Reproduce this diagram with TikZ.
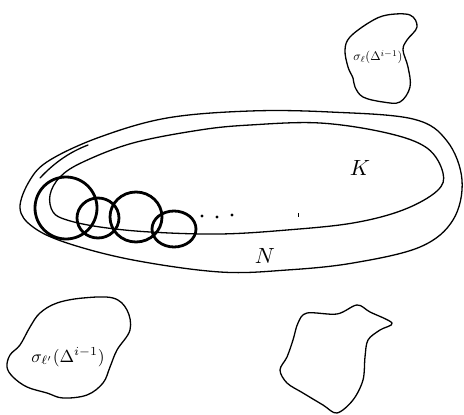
\documentclass[tikz,border=0pt]{standalone}
\begin{document}
\begin{tikzpicture}[x=1pt,y=-1pt,
  thinline/.style={line width=1.3pt,line join=round,line cap=round},
  ring/.style={line width=2.8pt},
  lab/.style={inner sep=0pt}]
\useasboundingbox (0,0) rectangle (464,415);
% outer region N
\draw[thinline] plot[smooth cycle,tension=0.6] coordinates {
 (20,208) (30,180) (50,160) (100,137) (167,118) (250,111) (330,112) (413,119)
 (447,141) (462,180) (453,220) (420,247) (353,263) (287,270) (220,272)
 (133,260) (67,243) (33,227)};
% extra stroke
\draw[thinline] (40,178) .. controls (55,162) and (70,152) .. (88,145);
% inner region K
\draw[thinline] plot[smooth cycle,tension=0.6] coordinates {
 (50,195) (60,177) (83,162) (133,143) (200,130) (250,125) (320,123) (387,133)
 (427,148) (443,173) (437,191) (403,210) (353,223) (287,230) (220,234)
 (150,232) (100,227) (67,220) (53,212)};
% chain of circles
\draw[ring] (66,208) ellipse (31 and 31);
\draw[ring] (98,218) ellipse (21 and 20);
\draw[ring] (136,217) ellipse (26 and 25);
\draw[ring] (174,229) ellipse (22 and 18);
% dots
\fill (202,216) circle (1.6);
\fill (217,217) circle (1.6);
\fill (232,215) circle (1.6);
\draw[line width=1pt] (298,213) -- (298,217);
% labels
\node[lab,scale=2.2] (K) at (360,168) {$K$};
\node[lab,scale=2.2] (N) at (265,256) {$N$};
% top-right blob
\draw[thinline] plot[smooth cycle,tension=0.6] coordinates {
 (350,37) (370,22) (387,15) (410,15) (417,27) (407,40) (403,50) (408,67)
 (410,87) (400,102) (383,102) (363,97) (355,87) (353,78) (348,67) (345,50)};
\node[lab,scale=1.25] (s1) at (378,57) {$\sigma_\ell(\Delta^{i-1})$};
% bottom-left blob
\draw[thinline] plot[smooth cycle,tension=0.6] coordinates {
 (40,313) (57,303) (83,298) (113,298) (127,310) (130,330) (117,350) (110,367)
 (103,383) (87,395) (63,398) (47,393) (27,387) (13,377) (7,367) (10,355)
 (20,345) (30,327)};
\node[lab,scale=1.75] (s2) at (68,357) {$\sigma_{\ell'}(\Delta^{i-1})$};
% bottom-right blob
\draw[thinline] plot[smooth cycle,tension=0.55] coordinates {
 (307,313) (337,314) (357,305) (370,312) (392,323) (380,330) (368,340)
 (365,357) (363,380) (353,400) (337,413) (323,405) (303,393) (287,383)
 (280,370) (287,357) (293,340) (298,323)};
\end{tikzpicture}
\end{document}
